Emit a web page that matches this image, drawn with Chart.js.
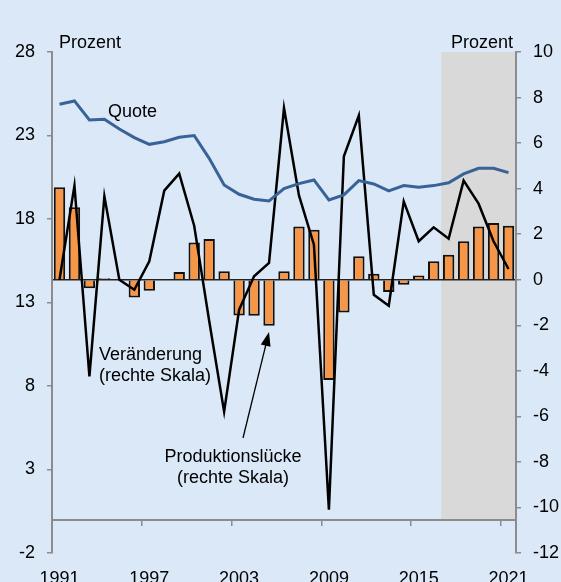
<!DOCTYPE html>
<html>
<head>
<meta charset="utf-8">
<script src="https://cdn.jsdelivr.net/npm/chart.js@4.4.1/dist/chart.umd.min.js"></script>
<style>
  html, body { margin: 0; padding: 0; background: #dbe8f7; }
  #wrap { position: relative; width: 561px; height: 582px; overflow: hidden; }
</style>
</head>
<body>
<div id="wrap"><canvas id="chart"></canvas></div>
<script>
// Daten
const years = ['1991','1992','1993','1994','1995','1996','1997','1998','1999','2000',
  '2001','2002','2003','2004','2005','2006','2007','2008','2009','2010',
  '2011','2012','2013','2014','2015','2016','2017','2018','2019','2020','2021'];
const quote = [24.87, 25.07, 23.93, 23.97, 23.39, 22.87, 22.47, 22.63, 22.89, 23.0,
  21.63, 20.04, 19.48, 19.18, 19.08, 19.82, 20.12, 20.34, 19.14, 19.44,
  20.3, 20.1, 19.68, 20.0, 19.9, 20.0, 20.17, 20.7, 21.04, 21.04, 20.78];
const veraenderung = [0.0, 4.13, -4.25, 3.66, 0.0, -0.44, 0.81, 3.91, 4.66, 2.37,
  -1.8, -5.79, -1.32, 0.15, 0.74, 7.54, 3.7, 1.54, -10.1, 5.42,
  7.21, -0.66, -1.14, 3.44, 1.69, 2.3, 1.8, 4.35, 3.34, 1.69, 0.47];
const produktionsluecke = [4.06, 3.18, -0.37, 0.07, 0.0, -0.78, -0.48, -0.03, 0.34, 1.64,
  1.79, 0.37, -1.57, -1.58, -2.02, 0.37, 2.34, 2.2, -4.4, -1.44,
  1.03, 0.26, -0.54, -0.22, 0.19, 0.81, 1.1, 1.69, 2.34, 2.49, 2.37];
const leftTicks = [-2, 3, 8, 13, 18, 23, 28];
const rightTicks = [-12, -10, -8, -6, -4, -2, 0, 2, 4, 6, 8, 10];
const shownYears = ['1991', '1997', '2003', '2009', '2015', '2021'];
const forecastFrom = '2017';

const axisGrey = '#8c8c8c';
Chart.defaults.font.family = '"Liberation Sans", Arial, sans-serif';
Chart.defaults.font.size = 18;
Chart.defaults.color = '#000';

// grauer Prognosebereich + Beschriftungen
const extras = {
  id: 'extras',
  beforeDraw(chart) {
    const { ctx, chartArea, scales } = chart;
    const i = years.indexOf(forecastFrom);
    const half = (scales.x.getPixelForValue(1) - scales.x.getPixelForValue(0)) / 2;
    const x0 = scales.x.getPixelForValue(i) - half;
    const yBottom = scales.y.getPixelForValue(0);
    ctx.save();
    ctx.fillStyle = '#d9d9d9';
    ctx.fillRect(x0, chartArea.top, chartArea.right - x0, yBottom - chartArea.top);
    ctx.restore();
  },
  afterDatasetsDraw(chart) {
    const { ctx, chartArea } = chart;
    const L = chartArea.left, T = chartArea.top;
    ctx.save();
    ctx.fillStyle = '#000';
    ctx.font = '18px "Liberation Sans", Arial, sans-serif';
    ctx.textBaseline = 'alphabetic';
    ctx.textAlign = 'left';
    ctx.fillText('Prozent', L + 7, T - 4);
    ctx.textAlign = 'right';
    ctx.fillText('Prozent', chartArea.right - 3, T - 4);
    ctx.textAlign = 'left';
    ctx.fillText('Quote', L + 56, T + 65);
    ctx.fillText('Veränderung', L + 47, T + 308);
    ctx.fillText('(rechte Skala)', L + 47, T + 329);
    ctx.textAlign = 'center';
    ctx.fillText('Produktionslücke', L + 181, T + 410);
    ctx.fillText('(rechte Skala)', L + 181, T + 431);

    // Pfeil
    const x1 = L + 191, y1 = T + 386, x2 = L + 217, y2 = T + 280;
    const ang = Math.atan2(y2 - y1, x2 - x1);
    ctx.strokeStyle = '#000';
    ctx.lineWidth = 1.3;
    ctx.beginPath();
    ctx.moveTo(x1, y1);
    ctx.lineTo(x2 - 12 * Math.cos(ang), y2 - 12 * Math.sin(ang));
    ctx.stroke();
    ctx.beginPath();
    ctx.moveTo(x2, y2);
    ctx.lineTo(x2 - 14 * Math.cos(ang) + 5 * Math.sin(ang), y2 - 14 * Math.sin(ang) - 5 * Math.cos(ang));
    ctx.lineTo(x2 - 14 * Math.cos(ang) - 5 * Math.sin(ang), y2 - 14 * Math.sin(ang) + 5 * Math.cos(ang));
    ctx.closePath();
    ctx.fill();
    ctx.restore();
  }
};

new Chart(document.getElementById('chart'), {
  type: 'bar',
  data: {
    labels: years,
    datasets: [
      {
        type: 'line',
        label: 'Quote',
        data: quote,
        yAxisID: 'y',
        borderColor: '#386397',
        borderWidth: 3,
        pointRadius: 0,
        tension: 0,
        order: 1
      },
      {
        type: 'line',
        label: 'Veränderung',
        data: veraenderung,
        yAxisID: 'y2',
        borderColor: '#000',
        borderWidth: 2.5,
        pointRadius: 0,
        tension: 0,
        order: 2
      },
      {
        type: 'bar',
        label: 'Produktionslücke',
        data: produktionsluecke,
        yAxisID: 'y2',
        backgroundColor: '#f79646',
        borderColor: '#111',
        borderWidth: 2,
        barPercentage: 0.76,
        categoryPercentage: 1,
        order: 3
      }
    ]
  },
  options: {
    responsive: true,
    maintainAspectRatio: false,
    animation: false,
    layout: { padding: { top: 52, left: 0, right: 0, bottom: 0 } },
    plugins: {
      legend: { display: false },
      tooltip: { enabled: false }
    },
    scales: {
      x: {
        type: 'category',
        position: 'bottom',
        offset: true,
        grid: { display: false, offset: true },
        border: { display: false },
        ticks: {
          autoSkip: false,
          maxRotation: 0,
          padding: 7,
          callback: function (value) {
            const lbl = years[value];
            return shownYears.includes(lbl) ? lbl : '';
          }
        },
        afterFit: function (scale) { scale.height = 29; }
      },
      xAxis: {
        type: 'category',
        position: { y: 0 },
        offset: true,
        grid: {
          offset: true,
          drawOnChartArea: false,
          tickLength: 5,
          lineWidth: 1.5,
          color: function (ctx) {
            return (ctx.index > 0 && ctx.index < years.length && ctx.index % 6 === 0) ? axisGrey : 'rgba(0,0,0,0)';
          }
        },
        border: { display: true, color: axisGrey, width: 2 },
        ticks: { display: false }
      },
      y: {
        position: 'left',
        min: -2,
        max: 28,
        afterBuildTicks: function (scale) {
          scale.ticks = leftTicks.map(v => ({ value: v }));
        },
        grid: { drawOnChartArea: false, tickLength: 5, tickColor: axisGrey, lineWidth: 1.5 },
        border: { color: axisGrey, width: 2 },
        ticks: { padding: 12 },
        afterFit: function (scale) { scale.width = 52; }
      },
      y2: {
        position: 'right',
        min: -12,
        max: 10,
        afterBuildTicks: function (scale) {
          scale.ticks = rightTicks.map(v => ({ value: v }));
        },
        grid: {
          drawOnChartArea: true,
          tickLength: 5,
          tickColor: axisGrey,
          lineWidth: 1.5,
          color: function (ctx) {
            return ctx.tick && ctx.tick.value === 0 ? '#222' : 'rgba(0,0,0,0)';
          }
        },
        border: { color: axisGrey, width: 2 },
        ticks: { padding: 12 },
        afterFit: function (scale) { scale.width = 45; }
      }
    }
  },
  plugins: [extras]
});
</script>
</body>
</html>
